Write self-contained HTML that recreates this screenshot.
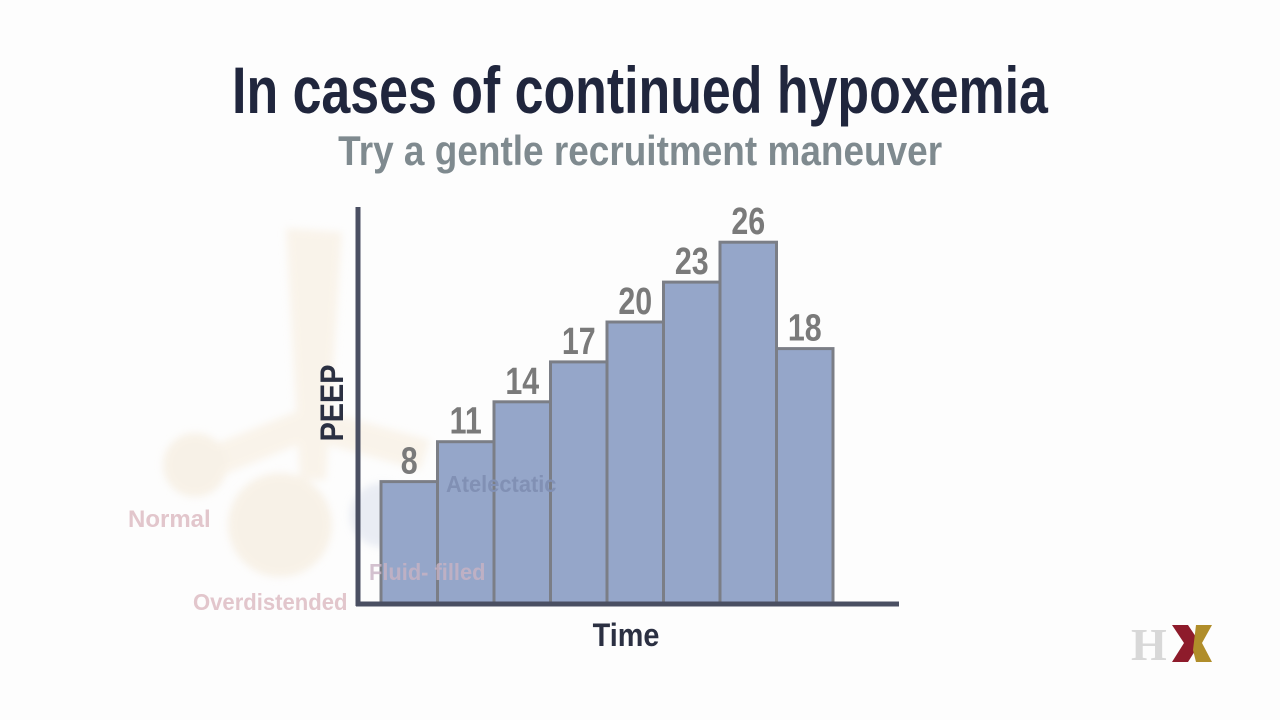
<!DOCTYPE html>
<html><head><meta charset="utf-8"><style>
body{margin:0;width:1280px;height:720px;background:#fdfdfd;overflow:hidden;font-family:"Liberation Sans",sans-serif}
.t{position:absolute;left:0;width:1280px;text-align:center;white-space:nowrap}
</style></head><body>
<div class="t" style="top:52px;font-size:66px;font-weight:bold;color:#20263d"><span style="display:inline-block;transform:scaleX(0.786)">In cases of continued hypoxemia</span></div>
<div class="t" style="top:127px;font-size:42px;font-weight:bold;color:#7f8a8f"><span style="display:inline-block;transform:scaleX(0.88)">Try a gentle recruitment maneuver</span></div>
<svg width="1280" height="720" style="position:absolute;left:0;top:0">
<defs><filter id="bl"><feGaussianBlur stdDeviation="4"/></filter></defs>
<g opacity="0.5" filter="url(#bl)">
<path d="M286 228 L342 232 L326 480 L300 480 Z" fill="#f6ead8"/>
<path d="M300 410 L200 450 L210 480 L310 440 Z" fill="#f6ead8"/>
<path d="M320 410 L430 440 L420 470 L310 440 Z" fill="#f6ead8"/>
<circle cx="195" cy="465" r="32" fill="#f3e6d2"/>
<circle cx="280" cy="525" r="52" fill="#f3e6d2"/>
<circle cx="382" cy="515" r="32" fill="#d6dcea"/>
</g>
<text x="128" y="527" font-size="24" font-weight="bold" fill="#e2c6cc">Normal</text>
<text x="193" y="610" font-size="23" font-weight="bold" fill="#e2c6cc" transform="translate(193,0) scale(0.96,1) translate(-193,0)">Overdistended</text>
<g id="bars"></g>
<text x="369" y="580" font-size="23" font-weight="bold" fill="#c9b3c4" opacity="0.8" transform="translate(369,0) scale(0.95,1) translate(-369,0)">Fluid- filled</text>
<text x="446" y="492" font-size="23" font-weight="bold" fill="#8190b4" transform="translate(446,0) scale(0.95,1) translate(-446,0)">Atelectatic</text>
<line x1="358" y1="207" x2="358" y2="606" stroke="#4a4f62" stroke-width="5"/>
<line x1="356" y1="604" x2="899" y2="604" stroke="#4a4f62" stroke-width="5"/>
<text transform="translate(343,403) rotate(-90) scale(0.9,1)" text-anchor="middle" font-size="32" font-weight="bold" fill="#2b3042">PEEP</text>
<text x="626" y="646" text-anchor="middle" font-size="32" font-weight="bold" fill="#2b3042" transform="translate(626,0) scale(0.9,1) translate(-626,0)">Time</text>
<g>
<text x="1131" y="660" font-family="Liberation Serif,serif" font-size="46" font-weight="bold" fill="#d8d8d8">H</text>
<path d="M1172 625 L1188 625 L1200 643 L1188 662 L1172 662 L1184 643 Z" fill="#8e1b2b"/>
<path d="M1196 625 L1212 625 L1202 643 L1212 662 L1196 662 L1193 650 Z" fill="#b08d2a"/>
</g>
</svg>
<script>
const steps=["1","2","3","4","5","6","7","8"];
const peep=[8,11,14,17,20,23,26,18];
const x0=381,bw=56.5,base=604;
function y(v){return 588-13.3*v;}
const g=document.getElementById('bars');
const NS='http://www.w3.org/2000/svg';
peep.forEach((v,i)=>{
 const r=document.createElementNS(NS,'rect');
 r.setAttribute('x',x0+i*bw);r.setAttribute('y',y(v));
 r.setAttribute('width',bw);r.setAttribute('height',base-y(v));
 r.setAttribute('fill','#95a6c9');r.setAttribute('stroke','#7b7e86');r.setAttribute('stroke-width','3');
 
 
 g.appendChild(r);
 const cx=x0+i*bw+bw/2;
 const t=document.createElementNS(NS,'text');
 t.setAttribute('x',cx);t.setAttribute('y',y(v)-8);
 t.setAttribute('text-anchor','middle');t.setAttribute('font-size','38');
 t.setAttribute('font-weight','bold');
 t.setAttribute('transform','translate('+cx+',0) scale(0.8,1) translate('+(-cx)+',0)');
 t.setAttribute('fill','#7a7a7a');t.textContent=v;
 
 
 g.appendChild(t);
});
</script>
</body></html>
